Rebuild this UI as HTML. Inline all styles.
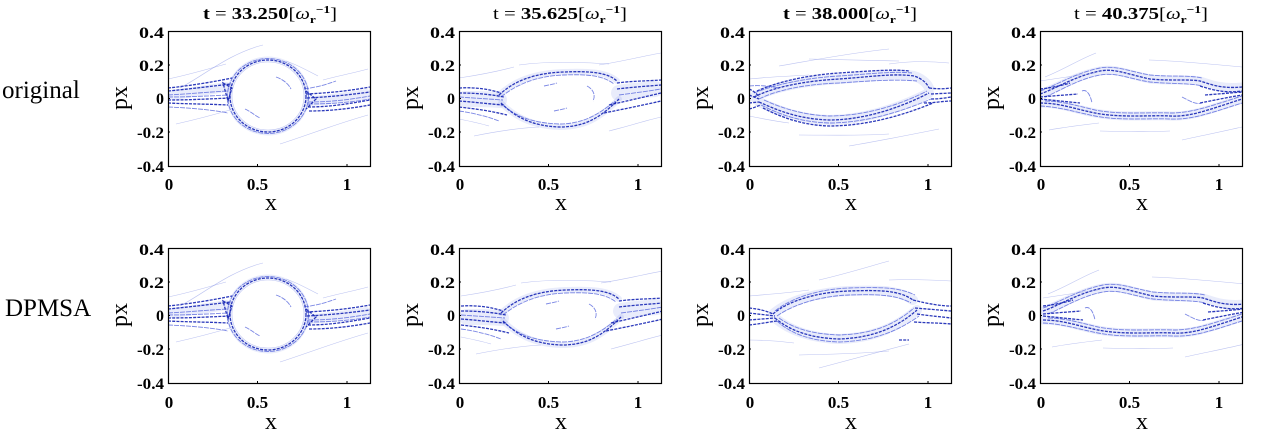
<!DOCTYPE html>
<html><head><meta charset="utf-8"><style>
html,body{margin:0;padding:0;background:#fff;}
svg{display:block;}
.d{stroke:#1424b4;stroke-width:1.3;fill:none;opacity:.9;stroke-dasharray:3 1.2}
.m{stroke:#3446d6;stroke-width:.9;fill:none;opacity:.65;stroke-dasharray:5 1}
.f{stroke:#6a7ae0;stroke-width:.6;fill:none;opacity:.45}
.h{stroke:#6677e0;fill:none;opacity:.14;stroke-linecap:round}
text{font-family:"Liberation Serif",serif;fill:#000}
.yt{font-size:16px;font-weight:bold;text-anchor:end}
.xt{font-size:17px;font-weight:bold;text-anchor:middle}
.lab{font-size:24px;text-anchor:middle}
.tt{font-size:17px;font-weight:bold;text-anchor:middle}
</style></head><body>
<svg width="1269" height="436" viewBox="0 0 1269 436" xmlns="http://www.w3.org/2000/svg">
<defs>
<clipPath id="cp" clipPathUnits="userSpaceOnUse"><rect x="0" y="0" width="202" height="135"/></clipPath>

<g id="A">
 <path class="h" stroke-width="10" d="M4,64 C20,62 45,58 58,56"/>
 <path class="h" stroke-width="10" d="M142,70 C160,69 180,66 198,63"/>
 <ellipse class="h" stroke-width="5" cx="100" cy="65" rx="39" ry="37"/>
 <ellipse class="d" cx="100" cy="65" rx="38" ry="36"/>
 <ellipse class="m" cx="100" cy="65" rx="40.5" ry="37.5"/>
 <ellipse class="f" cx="100" cy="65" rx="36" ry="34"/>
 <path class="d" d="M0,57 C20,55 45,51 64,47"/>
 <path class="d" d="M0,60 C22,58 45,55 63,53"/>
 <path class="d" d="M0,69 C20,69 40,68 62,67"/>
 <path class="d" d="M0,72 C20,73 40,73 60,74"/>
 <path class="m" d="M0,64 C20,63 40,61 60,60"/>
 <path class="m" d="M0,66 C20,66 40,65 60,64"/>
 <path class="m" d="M0,76 C25,77 45,79 60,82"/>
 <path class="d" d="M138,63 C160,62 180,60 202,56"/>
 <path class="d" d="M139,67 C160,66 180,64 202,61"/>
 <path class="d" d="M140,76 C160,76 180,73 202,69"/>
 <path class="d" d="M141,80 C165,80 185,77 202,74"/>
 <path class="m" d="M140,71 C165,71 185,68 202,65"/>
 <path class="m" d="M140,73 C165,73 185,71 202,68"/>
 <path class="m" d="M136,58 C150,56 160,53 168,50"/>
 <path class="d" d="M55,52 L64,57 L60,70 Z"/>
 <path class="d" d="M138,60 L148,68 L138,78"/>
 <path class="m" d="M108,46 C114,48 120,52 123,58"/>
 <path class="m" d="M77,78 C82,80 86,84 92,87"/>
 <path class="f" d="M12,57 C35,45 62,22 95,14"/>
 <path class="f" d="M8,93 C30,88 45,84 62,79"/>
 <path class="f" d="M155,49 C170,45 185,42 200,38"/>
 <path class="f" d="M112,113 C140,104 168,93 200,84"/>
 <path class="f" d="M0,48 C20,44 40,38 58,33"/>
 <path class="f" d="M118,30 C130,34 140,40 150,45"/>
</g>

<g id="B">
 <path class="h" stroke-width="6" d="M40,64 C55,50 75,42 105,41 C130,40 148,41 158,50 M42,72 C55,85 72,95 100,96 C125,96 140,88 160,68"/>
 <path class="h" stroke-width="16" d="M6,68 C15,68 30,68 40,69"/>
 <path class="h" stroke-width="16" d="M160,62 C170,60 185,59 196,58"/>
 <path class="d" d="M40,64 C55,50 75,42 105,41 C130,40 148,41 158,50"/>
 <path class="m" d="M42,66 C58,53 78,45 105,44 C130,43 145,45 155,53"/>
 <path class="d" d="M42,72 C55,85 72,95 100,96 C125,96 140,88 160,68"/>
 <path class="m" d="M45,75 C58,86 75,92 100,93 C122,93 138,85 156,70"/>
 <path class="d" d="M0,57 C15,56 30,58 42,62"/>
 <path class="d" d="M0,62 C15,62 30,63 45,66"/>
 <path class="d" d="M0,70 C15,71 30,73 45,74"/>
 <path class="d" d="M0,76 C18,78 32,80 48,84"/>
 <path class="m" d="M0,66 L44,69"/>
 <path class="m" d="M0,80 C15,82 30,86 40,90"/>
 <path class="d" d="M158,52 C172,50 188,50 202,49"/>
 <path class="d" d="M158,58 C175,56 190,55 202,54"/>
 <path class="d" d="M150,74 C168,70 185,66 202,62"/>
 <path class="d" d="M145,82 C165,78 185,74 202,70"/>
 <path class="m" d="M160,64 C175,62 190,60 202,58"/>
 <path class="m" d="M128,55 C134,58 137,64 134,70"/>
 <path class="m" d="M95,80 C100,79 105,78 108,77"/>
 <path class="m" d="M85,55 C90,54 95,53 98,52"/>
 <path class="f" d="M0,47 C20,44 40,40 55,36"/>
 <path class="f" d="M140,34 C165,30 185,25 202,22"/>
 <path class="f" d="M15,105 C40,100 60,97 80,96"/>
 <path class="f" d="M150,100 C170,95 185,90 202,86"/>
 <path class="f" d="M0,88 C10,90 20,92 30,95"/>
 <path class="f" d="M60,34 C90,30 120,31 150,33"/>
</g>

<g id="C">
 <path class="h" stroke-width="10" d="M5,66 C25,56 55,50 90,48 C120,46 145,42 165,45 C172,47 178,52 180,57 M10,71 C30,80 50,88 80,89 C110,89 145,80 180,62"/>
 <path class="d" d="M5,66 C25,56 55,50 90,48 C120,46 145,42 165,45 C172,47 178,52 180,57"/>
 <path class="m" d="M5,62 C25,54 55,47 90,45 C120,43 145,40 163,42"/>
 <path class="d" d="M8,60 C28,51 58,44 90,42 C120,40 145,38 160,40"/>
 <path class="m" d="M10,68 C30,58 60,53 90,52 C120,50 145,48 168,50"/>
 <path class="d" d="M10,71 C30,80 50,88 80,89 C110,89 145,80 180,62"/>
 <path class="m" d="M12,74 C30,83 50,91 80,92 C110,92 145,84 182,68"/>
 <path class="d" d="M14,77 C32,86 52,94 80,95 C112,95 148,87 184,72"/>
 <path class="m" d="M15,69 C35,78 55,84 80,85 C110,85 145,77 178,60"/>
 <path class="d" d="M0,58 C5,60 8,63 10,66"/>
 <path class="d" d="M0,64 L10,68"/>
 <path class="d" d="M0,72 L10,71"/>
 <path class="d" d="M0,78 C5,77 8,75 12,74"/>
 <path class="m" d="M0,55 C10,54 20,55 30,57"/>
 <path class="d" d="M180,57 C188,58 195,58 202,57"/>
 <path class="d" d="M182,63 L202,62"/>
 <path class="d" d="M182,68 C190,68 196,67 202,66"/>
 <path class="d" d="M175,72 C185,72 195,70 202,70"/>
 <path class="f" d="M0,48 C20,46 40,45 60,44"/>
 <path class="f" d="M30,35 C60,30 100,22 140,18"/>
 <path class="f" d="M60,28 L150,30"/>
 <path class="f" d="M50,104 C80,104 110,105 140,103"/>
 <path class="f" d="M100,115 C130,110 160,104 190,98"/>
 <path class="f" d="M140,33 C160,30 180,30 200,32"/>
 <path class="f" d="M0,85 C15,88 25,90 40,92"/>
</g>

<g id="C2">
 <path class="h" stroke-width="10" d="M24,66 C40,52 70,44 100,43 C130,42 150,42 164,52 M26,70 C40,82 60,90 90,91 C120,90 145,82 168,62"/>
 <path class="d" d="M24,66 C40,52 70,44 100,43 C130,42 150,42 164,52"/>
 <path class="m" d="M26,63 C42,50 70,41 100,40 C130,39 150,39 166,47"/>
 <path class="m" d="M28,68 C45,56 72,48 100,47 C130,46 148,47 162,55"/>
 <path class="d" d="M26,70 C40,82 60,90 90,91 C120,90 145,82 168,62"/>
 <path class="m" d="M28,73 C42,86 62,93 90,94 C120,93 145,86 170,68"/>
 <path class="m" d="M30,70 C44,80 62,86 90,87 C118,86 142,80 165,60"/>
 <path class="d" d="M0,60 C10,61 18,63 24,66"/>
 <path class="d" d="M0,65 L26,68"/>
 <path class="d" d="M0,72 L26,70"/>
 <path class="d" d="M0,77 C10,76 20,74 28,73"/>
 <path class="d" d="M164,52 C180,56 192,58 202,58"/>
 <path class="d" d="M166,60 L202,63"/>
 <path class="d" d="M168,66 C182,68 194,69 202,70"/>
 <path class="d" d="M165,74 C180,75 192,75 202,76"/>
 <path class="f" d="M0,48 C25,46 45,44 60,42"/>
 <path class="f" d="M70,32 C100,25 125,17 140,13"/>
 <path class="f" d="M140,32 C165,31 185,32 202,33"/>
 <path class="f" d="M50,107 C80,106 110,106 140,103"/>
 <path class="f" d="M70,120 C100,112 130,104 160,96"/>
 <path class="f" d="M0,92 C15,92 30,93 45,95"/>
 <path class="d" d="M150,92 L160,92"/>
</g>

<g id="D">
 <path class="h" stroke-width="9" d="M0,63 C15,58 35,45 60,40 C75,37 90,44 110,48 C130,50 150,48 160,50 C170,53 180,58 202,56 M0,72 C20,72 35,78 55,82 C80,87 110,84 130,85 C150,86 165,80 202,68"/>
 <path class="d" d="M0,63 C15,58 35,45 60,40 C75,37 90,44 110,48 C130,50 150,48 160,50 C170,53 180,58 202,56"/>
 <path class="m" d="M0,60 C15,55 35,42 60,37 C75,34 92,41 110,44 C130,46 150,44 162,47"/>
 <path class="m" d="M5,66 C20,60 38,48 60,44 C76,41 90,48 110,51 C130,53 150,52 162,55"/>
 <path class="d" d="M0,72 C20,72 35,78 55,82 C80,87 110,84 130,85 C150,86 165,80 202,68"/>
 <path class="m" d="M0,75 C20,76 35,81 55,85 C80,90 110,87 130,88 C150,89 168,83 202,72"/>
 <path class="m" d="M5,70 C22,70 38,75 55,79 C80,84 110,81 130,82 C150,82 165,77 202,65"/>
 <path class="d" d="M0,58 C10,57 20,55 30,52"/>
 <path class="d" d="M0,68 L40,72"/>
 <path class="d" d="M0,66 C12,65 25,64 38,63"/>
 <path class="d" d="M160,55 C175,60 188,62 202,60"/>
 <path class="d" d="M160,72 C180,68 190,66 202,64"/>
 <path class="d" d="M165,64 C178,63 190,62 202,61"/>
 <path class="m" d="M42,60 C46,58 50,62 52,72"/>
 <path class="m" d="M142,66 C150,70 156,74 162,72"/>
 <path class="f" d="M5,46 C25,38 40,28 56,22"/>
 <path class="f" d="M109,29 C140,30 170,33 202,36"/>
 <path class="f" d="M9,99 C25,96 42,94 59,92"/>
 <path class="f" d="M142,109 C165,104 185,100 202,96"/>
 <path class="f" d="M60,100 C90,101 110,101 130,100"/>
 <path class="f" d="M0,50 C20,47 40,44 55,42"/>
</g>
</defs>

<!-- Titles -->
<text class="tt" x="270" y="19" textLength="134" lengthAdjust="spacingAndGlyphs">t <tspan font-weight="normal">= </tspan>33.250<tspan font-weight="normal">[</tspan><tspan font-style="italic" font-weight="normal">ω</tspan><tspan font-size="11" dy="4">r</tspan><tspan font-size="11" dy="-10">−1</tspan><tspan font-weight="normal" dy="6">]</tspan></text>
<text class="tt" x="560" y="19" textLength="134" lengthAdjust="spacingAndGlyphs"><tspan font-weight="normal">t = </tspan>35.625<tspan font-weight="normal">[</tspan><tspan font-style="italic" font-weight="normal">ω</tspan><tspan font-size="11" dy="4">r</tspan><tspan font-size="11" dy="-10">−1</tspan><tspan font-weight="normal" dy="6">]</tspan></text>
<text class="tt" x="850" y="19" textLength="134" lengthAdjust="spacingAndGlyphs">t <tspan font-weight="normal">= </tspan>38.000<tspan font-weight="normal">[</tspan><tspan font-style="italic" font-weight="normal">ω</tspan><tspan font-size="11" dy="4">r</tspan><tspan font-size="11" dy="-10">−1</tspan><tspan font-weight="normal" dy="6">]</tspan></text>
<text class="tt" x="1141" y="19" textLength="134" lengthAdjust="spacingAndGlyphs"><tspan font-weight="normal">t = </tspan>40.375<tspan font-weight="normal">[</tspan><tspan font-style="italic" font-weight="normal">ω</tspan><tspan font-size="11" dy="4">r</tspan><tspan font-size="11" dy="-10">−1</tspan><tspan font-weight="normal" dy="6">]</tspan></text>

<!-- Row labels -->
<text x="2" y="98" font-size="25">original</text>
<text x="5" y="316" font-size="25">DPMSA</text>

<g>
 <g transform="translate(168,31)"><g clip-path="url(#cp)"><use href="#A"/></g></g>
 <g transform="translate(459,31)"><g clip-path="url(#cp)"><use href="#B"/></g></g>
 <g transform="translate(749,31)"><g clip-path="url(#cp)"><use href="#C"/></g></g>
 <g transform="translate(1040,31)"><g clip-path="url(#cp)"><use href="#D"/></g></g>
 <g transform="translate(168,248)"><g clip-path="url(#cp)"><use href="#A" transform="translate(0,1)"/></g></g>
 <g transform="translate(459,248)"><g clip-path="url(#cp)"><use href="#B" transform="translate(2,1)"/></g></g>
 <g transform="translate(749,248)"><g clip-path="url(#cp)"><use href="#C2"/></g></g>
 <g transform="translate(1040,248)"><g clip-path="url(#cp)"><use href="#D" transform="translate(3,0)"/></g></g>
</g>

<g fill="none" stroke="#000" stroke-width="1.2">
 <rect x="168.5" y="31.5" width="202" height="135"/>
 <rect x="459.5" y="31.5" width="202" height="135"/>
 <rect x="749.5" y="31.5" width="202" height="135"/>
 <rect x="1040.5" y="31.5" width="202" height="135"/>
 <rect x="168.5" y="248.5" width="202" height="135"/>
 <rect x="459.5" y="248.5" width="202" height="135"/>
 <rect x="749.5" y="248.5" width="202" height="135"/>
 <rect x="1040.5" y="248.5" width="202" height="135"/>
</g>
<g stroke="#000" stroke-width="1">
 <path d="M168,65 h2 M168,98.5 h2 M168,132 h2 M257.5,166 v-2 M347,166 v-2"/>
 <path d="M459,65 h2 M459,98.5 h2 M459,132 h2 M548.5,166 v-2 M638,166 v-2"/>
 <path d="M749,65 h2 M749,98.5 h2 M749,132 h2 M838.5,166 v-2 M928,166 v-2"/>
 <path d="M1040,65 h2 M1040,98.5 h2 M1040,132 h2 M1129.5,166 v-2 M1219,166 v-2"/>
 <path d="M168,282 h2 M168,315.5 h2 M168,349 h2 M257.5,383 v-2 M347,383 v-2"/>
 <path d="M459,282 h2 M459,315.5 h2 M459,349 h2 M548.5,383 v-2 M638,383 v-2"/>
 <path d="M749,282 h2 M749,315.5 h2 M749,349 h2 M838.5,383 v-2 M928,383 v-2"/>
 <path d="M1040,282 h2 M1040,315.5 h2 M1040,349 h2 M1129.5,383 v-2 M1219,383 v-2"/>
</g>

<g>
 <text class="yt" x="164" y="38" textLength="25" lengthAdjust="spacingAndGlyphs">0.4</text>
 <text class="yt" x="164" y="71" textLength="25" lengthAdjust="spacingAndGlyphs">0.2</text>
 <text class="yt" x="164" y="104">0</text>
 <text class="yt" x="164" y="138" textLength="27" lengthAdjust="spacingAndGlyphs">-0.2</text>
 <text class="yt" x="164" y="172" textLength="27" lengthAdjust="spacingAndGlyphs">-0.4</text>

 <text class="yt" x="455" y="38" textLength="25" lengthAdjust="spacingAndGlyphs">0.4</text>
 <text class="yt" x="455" y="71" textLength="25" lengthAdjust="spacingAndGlyphs">0.2</text>
 <text class="yt" x="455" y="104">0</text>
 <text class="yt" x="455" y="138" textLength="27" lengthAdjust="spacingAndGlyphs">-0.2</text>
 <text class="yt" x="455" y="172" textLength="27" lengthAdjust="spacingAndGlyphs">-0.4</text>

 <text class="yt" x="745" y="38" textLength="25" lengthAdjust="spacingAndGlyphs">0.4</text>
 <text class="yt" x="745" y="71" textLength="25" lengthAdjust="spacingAndGlyphs">0.2</text>
 <text class="yt" x="745" y="104">0</text>
 <text class="yt" x="745" y="138" textLength="27" lengthAdjust="spacingAndGlyphs">-0.2</text>
 <text class="yt" x="745" y="172" textLength="27" lengthAdjust="spacingAndGlyphs">-0.4</text>

 <text class="yt" x="1036" y="38" textLength="25" lengthAdjust="spacingAndGlyphs">0.4</text>
 <text class="yt" x="1036" y="71" textLength="25" lengthAdjust="spacingAndGlyphs">0.2</text>
 <text class="yt" x="1036" y="104">0</text>
 <text class="yt" x="1036" y="138" textLength="27" lengthAdjust="spacingAndGlyphs">-0.2</text>
 <text class="yt" x="1036" y="172" textLength="27" lengthAdjust="spacingAndGlyphs">-0.4</text>
</g>
<g>
 <text class="yt" x="164" y="255" textLength="25" lengthAdjust="spacingAndGlyphs">0.4</text>
 <text class="yt" x="164" y="288" textLength="25" lengthAdjust="spacingAndGlyphs">0.2</text>
 <text class="yt" x="164" y="321">0</text>
 <text class="yt" x="164" y="355" textLength="27" lengthAdjust="spacingAndGlyphs">-0.2</text>
 <text class="yt" x="164" y="389" textLength="27" lengthAdjust="spacingAndGlyphs">-0.4</text>

 <text class="yt" x="455" y="255" textLength="25" lengthAdjust="spacingAndGlyphs">0.4</text>
 <text class="yt" x="455" y="288" textLength="25" lengthAdjust="spacingAndGlyphs">0.2</text>
 <text class="yt" x="455" y="321">0</text>
 <text class="yt" x="455" y="355" textLength="27" lengthAdjust="spacingAndGlyphs">-0.2</text>
 <text class="yt" x="455" y="389" textLength="27" lengthAdjust="spacingAndGlyphs">-0.4</text>

 <text class="yt" x="745" y="255" textLength="25" lengthAdjust="spacingAndGlyphs">0.4</text>
 <text class="yt" x="745" y="288" textLength="25" lengthAdjust="spacingAndGlyphs">0.2</text>
 <text class="yt" x="745" y="321">0</text>
 <text class="yt" x="745" y="355" textLength="27" lengthAdjust="spacingAndGlyphs">-0.2</text>
 <text class="yt" x="745" y="389" textLength="27" lengthAdjust="spacingAndGlyphs">-0.4</text>

 <text class="yt" x="1036" y="255" textLength="25" lengthAdjust="spacingAndGlyphs">0.4</text>
 <text class="yt" x="1036" y="288" textLength="25" lengthAdjust="spacingAndGlyphs">0.2</text>
 <text class="yt" x="1036" y="321">0</text>
 <text class="yt" x="1036" y="355" textLength="27" lengthAdjust="spacingAndGlyphs">-0.2</text>
 <text class="yt" x="1036" y="389" textLength="27" lengthAdjust="spacingAndGlyphs">-0.4</text>
</g>

<g>
 <text class="xt" x="169" y="190">0</text><text class="xt" x="257.5" y="190">0.5</text><text class="xt" x="347" y="190">1</text>
 <text class="xt" x="460" y="190">0</text><text class="xt" x="548.5" y="190">0.5</text><text class="xt" x="638" y="190">1</text>
 <text class="xt" x="750" y="190">0</text><text class="xt" x="838.5" y="190">0.5</text><text class="xt" x="928" y="190">1</text>
 <text class="xt" x="1041" y="190">0</text><text class="xt" x="1129.5" y="190">0.5</text><text class="xt" x="1219" y="190">1</text>

 <text class="xt" x="169" y="408">0</text><text class="xt" x="257.5" y="408">0.5</text><text class="xt" x="347" y="408">1</text>
 <text class="xt" x="460" y="408">0</text><text class="xt" x="548.5" y="408">0.5</text><text class="xt" x="638" y="408">1</text>
 <text class="xt" x="750" y="408">0</text><text class="xt" x="838.5" y="408">0.5</text><text class="xt" x="928" y="408">1</text>
 <text class="xt" x="1041" y="408">0</text><text class="xt" x="1129.5" y="408">0.5</text><text class="xt" x="1219" y="408">1</text>
</g>

<g>
 <text class="lab" x="271" y="210">x</text>
 <text class="lab" x="561" y="210">x</text>
 <text class="lab" x="851" y="210">x</text>
 <text class="lab" x="1142" y="210">x</text>
 <text class="lab" x="271" y="429">x</text>
 <text class="lab" x="561" y="429">x</text>
 <text class="lab" x="851" y="429">x</text>
 <text class="lab" x="1142" y="429">x</text>
</g>

<g>
 <text class="lab" transform="translate(127,98) rotate(-90)">px</text>
 <text class="lab" transform="translate(418,98) rotate(-90)">px</text>
 <text class="lab" transform="translate(708,98) rotate(-90)">px</text>
 <text class="lab" transform="translate(999,98) rotate(-90)">px</text>
 <text class="lab" transform="translate(127,315) rotate(-90)">px</text>
 <text class="lab" transform="translate(418,315) rotate(-90)">px</text>
 <text class="lab" transform="translate(708,315) rotate(-90)">px</text>
 <text class="lab" transform="translate(999,315) rotate(-90)">px</text>
</g>
</svg>
</body></html>
